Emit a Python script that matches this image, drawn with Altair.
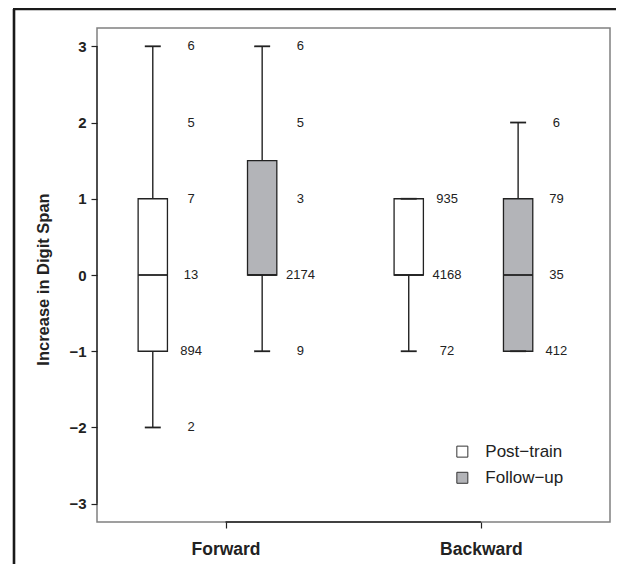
import altair as alt
import pandas as pd

# ---- data ----
groups = ["Forward", "Forward", "Backward", "Backward"]
conditions = ["Post\u2212train", "Follow\u2212up", "Post\u2212train", "Follow\u2212up"]
positions = [1.0, 2.0, 3.34, 4.34]
whisker_low = [-2, -1, -1, -1]
q1 = [-1, 0, 0, -1]
median = [0, 0, 0, 0]
q3 = [1, 1.5, 1, 1]
whisker_high = [3, 3, 1, 2]

label_box = [0, 0, 0, 0, 0, 0, 1, 1, 1, 1, 1, 2, 2, 2, 3, 3, 3, 3]
label_y = [3, 2, 1, 0, -1, -2, 3, 2, 1, 0, -1, 1, 0, -1, 2, 1, 0, -1]
label_n = [6, 5, 7, 13, 894, 2, 6, 5, 3, 2174, 9, 935, 4168, 72, 6, 79, 35, 412]

axis_ticks = [1.665, 4.0]
axis_names = ["Forward", "Backward"]
y_ticks = [-3, -2, -1, 0, 1, 2, 3]

legend_names = ["Post\u2212train", "Follow\u2212up"]
fills = {"Post\u2212train": "#ffffff", "Follow\u2212up": "#b3b4b8"}

# ---- geometry / style ----
BOX_HALF = 0.134
CAP_HALF = 0.073
LABEL_OFF = 0.35
FONT = "Liberation Sans"
DARK = "#222222"

W, H = 513, 494
PAD = {"left": 89, "top": 20, "right": 6, "bottom": 42}

boxes = pd.DataFrame({
    "group": groups, "cond": conditions, "pos": positions,
    "lo": whisker_low, "q1": q1, "med": median, "q3": q3, "hi": whisker_high,
})
boxes["left"] = boxes["pos"] - BOX_HALF
boxes["right"] = boxes["pos"] + BOX_HALF
boxes["capl"] = boxes["pos"] - CAP_HALF
boxes["capr"] = boxes["pos"] + CAP_HALF

labels = pd.DataFrame({
    "x": [positions[b] + LABEL_OFF for b in label_box],
    "y": label_y,
    "n": [str(v) for v in label_n],
})

xscale = alt.Scale(domain=[0.49, 5.18], nice=False, zero=False)
yscale = alt.Scale(domain=[-3.24, 3.24], nice=False, zero=False)

label_expr = " : ".join(
    f"datum.value == {v} ? '{n}'" for v, n in zip(axis_ticks, axis_names)
) + " : ''"

xaxis = alt.Axis(
    values=axis_ticks, labelExpr=label_expr, title=None, grid=False,
    domain=False, tickSize=6, tickColor=DARK, tickWidth=1.2,
    labelFont=FONT, labelFontSize=17.5, labelFontWeight="bold", labelColor=DARK,
    labelPadding=12, labelFlush=False,
)
yaxis = alt.Axis(
    values=y_ticks, labelExpr="datum.value < 0 ? '\u2212' + abs(datum.value) : '' + datum.value",
    title="Increase in Digit Span", grid=False, domain=False,
    tickSize=6, tickColor=DARK, tickWidth=1.2,
    labelFont=FONT, labelFontSize=15, labelFontWeight="bold", labelColor=DARK,
    labelPadding=5,
    titleFont=FONT, titleFontSize=16.5, titleFontWeight="bold", titleColor=DARK,
    titleX=-54, titleY=H / 2 + 4, titleAngle=-90, titleAlign="center", titleBaseline="middle",
)


def X(field):
    return alt.X(field, scale=xscale, axis=xaxis)


def Y(field):
    return alt.Y(field, scale=yscale, axis=yaxis)


base = alt.Chart(boxes)

whisk_low = base.mark_rule(color=DARK, strokeWidth=1.4).encode(
    x=X("pos:Q"), y=Y("lo:Q"), y2="q1:Q",
)
whisk_high = base.mark_rule(color=DARK, strokeWidth=1.4).encode(
    x=X("pos:Q"), y=Y("q3:Q"), y2="hi:Q",
)
box = base.mark_rect(stroke=DARK, strokeWidth=1.3).encode(
    x=X("left:Q"), x2="right:Q",
    y=Y("q1:Q"), y2="q3:Q",
    fill=alt.Fill("cond:N", scale=alt.Scale(domain=list(fills.keys()), range=list(fills.values())), legend=None),
)
med = base.mark_rule(color=DARK, strokeWidth=1.8).encode(
    x=X("left:Q"), x2="right:Q", y=Y("med:Q"),
)
cap_lo = base.mark_rule(color=DARK, strokeWidth=1.8).encode(
    x=X("capl:Q"), x2="capr:Q", y=Y("lo:Q"),
)
cap_hi = base.mark_rule(color=DARK, strokeWidth=1.8).encode(
    x=X("capl:Q"), x2="capr:Q", y=Y("hi:Q"),
)

text = alt.Chart(labels).mark_text(
    font=FONT, fontSize=13, color=DARK, align="center", baseline="middle"
).encode(
    x=X("x:Q"), y=Y("y:Q"), text="n:N",
)

# axis lines (from first to last tick, as R draws them)
ydomain = alt.Chart(pd.DataFrame({"a": [y_ticks[0]], "b": [y_ticks[-1]]})).mark_rule(
    color=DARK, strokeWidth=1.3
).encode(
    x=alt.value(0), y=Y("a:Q"), y2="b:Q",
)
xdomain = alt.Chart(pd.DataFrame({"a": [axis_ticks[0]], "b": [axis_ticks[-1]]})).mark_rule(
    color=DARK, strokeWidth=1.3
).encode(
    x=X("a:Q"), x2="b:Q", y=alt.value(H),
)

# legend drawn inside the plot
legend_df = pd.DataFrame({
    "name": legend_names,
    "sx": [3.83, 3.83],
    "tx": [4.04, 4.04],
    "y": [-2.317, -2.66],
})
leg_sq = alt.Chart(legend_df).mark_square(size=121, stroke="#333333", strokeWidth=1, opacity=1).encode(
    x=X("sx:Q"), y=Y("y:Q"),
    fill=alt.Fill("name:N", scale=alt.Scale(domain=list(fills.keys()), range=list(fills.values())), legend=None),
)
leg_tx = alt.Chart(legend_df).mark_text(
    font=FONT, fontSize=17, color=DARK, align="left", baseline="middle"
).encode(
    x=X("tx:Q"), y=Y("y:Q"), text="name:N",
)

# outer figure frame: left and top edges only (the rest lies outside the page)
frame_left = alt.Chart(alt.Data(values=[{}])).mark_rule(color="#1a1a1a", strokeWidth=2.6, clip=False).encode(
    x=alt.value(-83), y=alt.value(-19), y2=alt.value(H + 42),
)
frame_top = alt.Chart(alt.Data(values=[{}])).mark_rule(color="#1a1a1a", strokeWidth=2.6, clip=False).encode(
    x=alt.value(-84), x2=alt.value(W + 6), y=alt.value(-19),
)

chart = alt.layer(
    whisk_low, whisk_high, box, med, cap_lo, cap_hi, text,
    ydomain, xdomain, leg_sq, leg_tx, frame_left, frame_top,
).properties(
    width=W, height=H, padding=PAD, autosize="none", background="white",
).configure_view(
    stroke="#808080", strokeWidth=1.5,
)

chart.save("out.html", embed_options={"renderer": "svg", "actions": False})
